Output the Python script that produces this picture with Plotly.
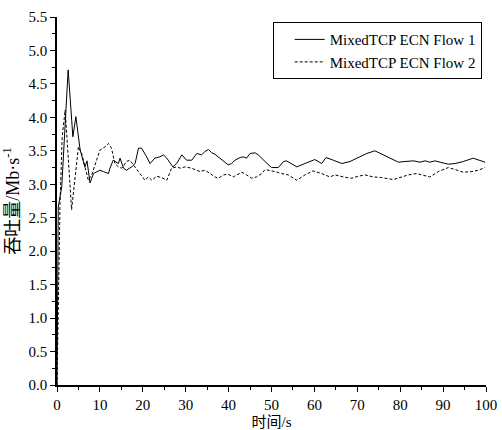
import plotly.graph_objects as go

t1 = [0, 0.3, 1.1, 2.6, 3.7, 4.4, 5.4, 6.5, 7.0, 7.7, 8.5, 10.0, 10.8, 12.0, 12.35, 13.1, 14.3, 14.7, 15.5, 16.2,
      17.4, 18.2, 19.0, 19.7, 20.9, 21.7, 22.8, 24.0, 24.8, 25.6, 27.0, 27.9, 29.1, 30.2, 31.4, 32.6, 33.7,
      34.5, 35.3, 36.1, 36.8, 37.6, 38.4, 39.9, 40.7, 41.5, 42.7, 43.4, 44.2, 45.0, 46.2, 46.9, 48.5, 50.0,
      51.6, 52.8, 53.5, 54.7, 55.9, 57.8, 60.1, 61.7, 62.7, 64.4, 66.4, 68.3, 70.6, 72.2, 74.1, 75.7, 76.5,
      78.0, 79.6, 81.1, 83.1, 84.6, 85.8, 86.9, 88.1, 89.3, 91.2, 92.8, 94.7, 97.0, 98.6, 99.8]
v1 = [0, 2.66, 2.96, 4.71, 3.71, 4.01, 3.51, 3.26, 3.35, 3.02, 3.16, 3.21, 3.19, 3.16, 3.24, 3.36, 3.31, 3.39, 3.24, 3.21,
      3.26, 3.31, 3.54, 3.54, 3.41, 3.31, 3.39, 3.41, 3.44, 3.39, 3.26, 3.31, 3.44, 3.36, 3.36, 3.46, 3.44,
      3.49, 3.52, 3.47, 3.45, 3.41, 3.36, 3.29, 3.31, 3.36, 3.40, 3.41, 3.39, 3.46, 3.47, 3.44, 3.34, 3.25,
      3.25, 3.34, 3.35, 3.31, 3.26, 3.31, 3.37, 3.31, 3.40, 3.36, 3.31, 3.34, 3.41, 3.46, 3.50, 3.45, 3.42,
      3.37, 3.33, 3.34, 3.35, 3.33, 3.35, 3.33, 3.35, 3.33, 3.30, 3.31, 3.34, 3.39, 3.36, 3.33]

t2 = [0, 0.7, 1.2, 1.9, 3.4, 5.0, 5.75, 7.3, 8.1, 8.9, 10.0, 11.2, 12.0, 12.7, 13.5, 14.3, 15.1, 16.2, 17.0, 17.8,
      19.0, 19.7, 20.5, 21.3, 22.1, 23.2, 24.4, 25.6, 26.7, 27.9, 28.7, 29.8, 31.4, 33.3, 34.5, 35.7, 36.8,
      37.6, 38.8, 39.9, 41.1, 41.9, 43.1, 44.2, 45.4, 46.5, 47.7, 48.5, 49.7, 50.8, 52.4, 53.9, 55.9, 57.8,
      59.7, 61.7, 63.6, 64.8, 66.7, 68.7, 70.2, 71.8, 73.7, 75.7, 78.4, 80.3, 81.9, 83.8, 85.4, 86.9, 88.9,
      91.2, 92.8, 94.7, 96.7, 98.2, 99.8]
v2 = [0, 2.7, 3.7, 4.11, 2.62, 3.56, 3.46, 3.06, 3.14, 3.31, 3.51, 3.56, 3.61, 3.54, 3.31, 3.26, 3.24, 3.34, 3.36, 3.29,
      3.19, 3.12, 3.06, 3.11, 3.06, 3.12, 3.10, 3.06, 3.24, 3.26, 3.24, 3.26, 3.24, 3.19, 3.21, 3.16, 3.11,
      3.09, 3.14, 3.15, 3.11, 3.14, 3.18, 3.14, 3.09, 3.11, 3.16, 3.22, 3.21, 3.19, 3.16, 3.14, 3.06, 3.14,
      3.20, 3.16, 3.11, 3.14, 3.11, 3.09, 3.12, 3.14, 3.11, 3.10, 3.07, 3.11, 3.14, 3.16, 3.14, 3.11, 3.19,
      3.25, 3.22, 3.18, 3.19, 3.21, 3.25]

names = ["MixedTCP ECN Flow 1", "MixedTCP ECN Flow 2"]
x_title = "时间/s"
y_title = "吞吐量/Mb·s<sup>-1</sup>"

FONT = "Liberation Serif, Noto Sans CJK SC"
tickfont = dict(family=FONT, size=15, color="black")

fig = go.Figure()
fig.add_trace(go.Scatter(x=t1, y=v1, mode="lines", name=names[0],
                         line=dict(color="black", width=1)))
fig.add_trace(go.Scatter(x=t2, y=v2, mode="lines", name=names[1],
                         line=dict(color="black", width=1, dash="3px,2px")))

fig.update_layout(
    width=502, height=430,
    margin=dict(l=57, r=16, t=17, b=45, autoexpand=False),
    plot_bgcolor="white", paper_bgcolor="white",
    font=dict(family=FONT, size=15, color="black"),
    xaxis=dict(range=[0, 100], dtick=10, tick0=0, tickmode="linear", automargin=False,
               showline=True, linecolor="black", linewidth=1.5, showgrid=False, zeroline=False,
               ticks="outside", ticklen=5, tickwidth=1.2, tickcolor="black",
               tickfont=tickfont,
               minor=dict(dtick=5, ticks="outside", ticklen=3, tickcolor="black", tickwidth=1, showgrid=False),
               title=dict(text=x_title, font=dict(family=FONT, size=15, color="black"))),
    yaxis=dict(range=[0, 5.5], dtick=0.5, tick0=0, tickmode="linear", tickformat=".1f", automargin=False,
               showline=True, linecolor="black", linewidth=1.5, showgrid=False, zeroline=False,
               ticks="outside", ticklen=5, tickwidth=1.2, tickcolor="black",
               tickfont=tickfont,
               minor=dict(dtick=0.25, ticks="outside", ticklen=3, tickcolor="black", tickwidth=1, showgrid=False),
               title=dict(text=y_title, font=dict(family=FONT, size=18, color="black"))),
    legend=dict(x=0.99, y=0.986, xanchor="right", yanchor="top",
                bordercolor="black", borderwidth=1, bgcolor="white",
                font=dict(family=FONT, size=15, color="black"),
                tracegroupgap=0, itemwidth=30, indentation=16),
    showlegend=True,
)

fig.write_html("out.html", config={"displayModeBar": False},
               post_script="document.body.style.margin='0';document.body.style.padding='0';")
